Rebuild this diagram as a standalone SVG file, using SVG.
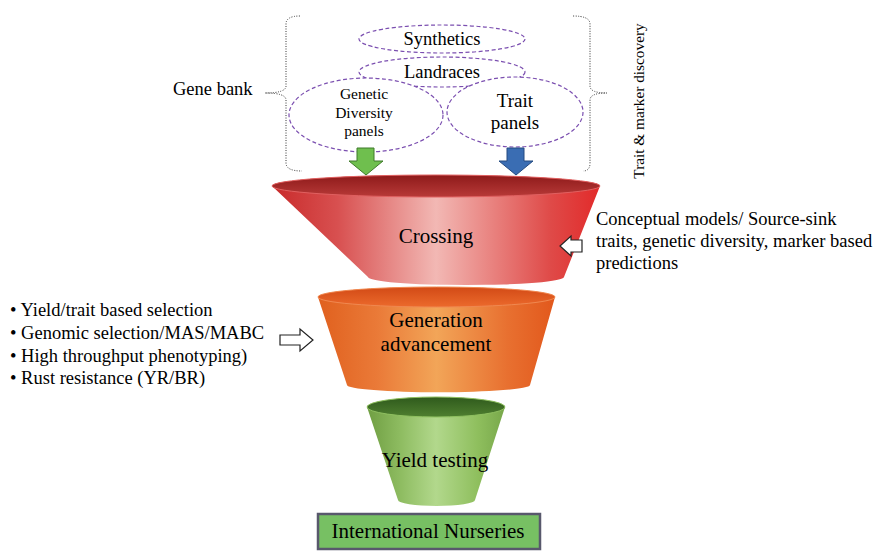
<svg xmlns="http://www.w3.org/2000/svg" width="875" height="552" viewBox="0 0 875 552">
<style>
text{font-family:'Liberation Serif','DejaVu Serif',serif;fill:#000}
.el{fill:#fff;stroke:#7b4fb0;stroke-width:1.2;stroke-dasharray:4 2.5}
.br{fill:none;stroke:#333;stroke-width:1;stroke-dasharray:1 1.5}
.wa{fill:#fff;stroke:#222;stroke-width:1.2}
</style>
<defs>
<linearGradient id="rb" x1="0" y1="0" x2="1" y2="0">
<stop offset="0" stop-color="#c82a2a"/><stop offset="0.2" stop-color="#d85050"/><stop offset="0.5" stop-color="#f2b8b4"/><stop offset="0.85" stop-color="#df4a48"/><stop offset="1" stop-color="#e22a2a"/>
</linearGradient>
<linearGradient id="rr" x1="0" y1="0" x2="0" y2="1">
<stop offset="0" stop-color="#8e1a1a"/><stop offset="1" stop-color="#b83a38"/>
</linearGradient>
<linearGradient id="ob" x1="0" y1="0" x2="1" y2="0">
<stop offset="0" stop-color="#e0601e"/><stop offset="0.25" stop-color="#ea7a38"/><stop offset="0.5" stop-color="#f2a558"/><stop offset="0.8" stop-color="#e87030"/><stop offset="1" stop-color="#e2581c"/>
</linearGradient>
<linearGradient id="or" x1="0" y1="0" x2="0" y2="1">
<stop offset="0" stop-color="#d24a16"/><stop offset="1" stop-color="#ec6a2c"/>
</linearGradient>
<linearGradient id="gb" x1="0" y1="0" x2="1" y2="0">
<stop offset="0" stop-color="#6f9e42"/><stop offset="0.25" stop-color="#8fbd62"/><stop offset="0.5" stop-color="#b2d88c"/><stop offset="0.8" stop-color="#8fbf5e"/><stop offset="1" stop-color="#78a84a"/>
</linearGradient>
<linearGradient id="gr" x1="0" y1="0" x2="0" y2="1">
<stop offset="0" stop-color="#2f5a1c"/><stop offset="1" stop-color="#4f7f30"/>
</linearGradient>
</defs>

<g id="brackets">
<path class="br" d="M300,16 Q286,16 286,24 L286,86 Q286,93 265,93 Q286,93 286,100 L286,163 Q286,171 302,171"/>
<path class="br" d="M573,16 Q590,16 590,24 L590,86 Q590,93 607,93 Q590,93 590,100 L590,163 Q590,171 583,171"/>
</g>

<g id="synthetics"><ellipse class="el" cx="442" cy="39" rx="83" ry="14"/><text x="442" y="45" font-size="18.5" text-anchor="middle">Synthetics</text></g>
<g id="landraces"><ellipse class="el" cx="442" cy="72" rx="83" ry="15"/><text x="442" y="78" font-size="18.5" text-anchor="middle">Landraces</text></g>
<g id="genetic"><ellipse class="el" cx="366" cy="115" rx="77" ry="37"/>
<text font-size="15.5" text-anchor="middle"><tspan x="364" y="99">Genetic</tspan><tspan x="364" y="118">Diversity</tspan><tspan x="364" y="136">panels</tspan></text></g>
<g id="trait"><ellipse class="el" cx="515" cy="112" rx="68" ry="35"/>
<text font-size="19" text-anchor="middle"><tspan x="515" y="107">Trait</tspan><tspan x="515" y="129">panels</tspan></text></g>

<g id="genebank"><text x="173" y="95" font-size="18.5">Gene bank</text></g>
<g id="discovery"><text transform="translate(644,101) rotate(-90)" font-size="15.3" text-anchor="middle">Trait &amp; marker discovery</text></g>

<g id="crossing">
<path d="M272,186 L368,277 A98,8 0 0 0 564,277 L600,186 A164,11 0 0 0 272,186 Z" fill="url(#rb)"/>
<ellipse cx="436" cy="186" rx="164" ry="11" fill="url(#rr)" stroke="#e06060" stroke-width="1"/>
<text x="436" y="243" font-size="21" text-anchor="middle">Crossing</text>
</g>

<g id="generation">
<path d="M318,297 L347,385 A89,7 0 0 0 530,385 L555,297 A118.5,10 0 0 0 318,297 Z" fill="url(#ob)"/>
<ellipse cx="436.5" cy="297" rx="118.5" ry="10" fill="url(#or)" stroke="#f08850" stroke-width="1"/>
<text font-size="21" text-anchor="middle"><tspan x="436" y="327">Generation</tspan><tspan x="436" y="351">advancement</tspan></text>
</g>

<g id="yield">
<path d="M367,407 L398,500 A38.5,6 0 0 0 475,500 L505,407 A69,10 0 0 0 367,407 Z" fill="url(#gb)"/>
<ellipse cx="436" cy="407" rx="69" ry="10" fill="url(#gr)" stroke="#8fc060" stroke-width="1"/>
<text x="435" y="467" font-size="21" text-anchor="middle">Yield testing</text>
</g>

<g id="nurseries">
<rect x="318" y="514" width="222" height="35" fill="#77c063" stroke="#58586c" stroke-width="2.5"/>
<text x="428" y="538" font-size="21" text-anchor="middle">International Nurseries</text>
</g>

<g id="lefttext">
<text font-size="18.5"><tspan x="10" y="316">• Yield/trait based selection</tspan><tspan x="10" y="339">• Genomic selection/MAS/MABC</tspan><tspan x="10" y="361.5">• High throughput phenotyping)</tspan><tspan x="10" y="384">• Rust resistance (YR/BR)</tspan></text>
</g>

<g id="righttext">
<text font-size="18.5"><tspan x="596" y="225">Conceptual models/ Source-sink</tspan><tspan x="596" y="247">traits, genetic diversity, marker based</tspan><tspan x="596" y="269">predictions</tspan></text>
</g>

<g id="connectors">
<path d="M357,148 L374,148 L374,161 L383,161 L366,175 L349,161 L357,161 Z" fill="#6fbf4e" stroke="#3f7a2a" stroke-width="1"/>
<path d="M507,148 L524,148 L524,161 L533,161 L516,175 L499,161 L507,161 Z" fill="#3a6db3" stroke="#244a80" stroke-width="1"/>
<path class="wa" d="M582,240 L571,240 L571,236 L560,246 L571,256 L571,252 L582,252 Z"/>
<path class="wa" d="M280,335 L300,335 L300,329 L313,340 L300,351 L300,345 L280,345 Z"/>
</g>
</svg>
